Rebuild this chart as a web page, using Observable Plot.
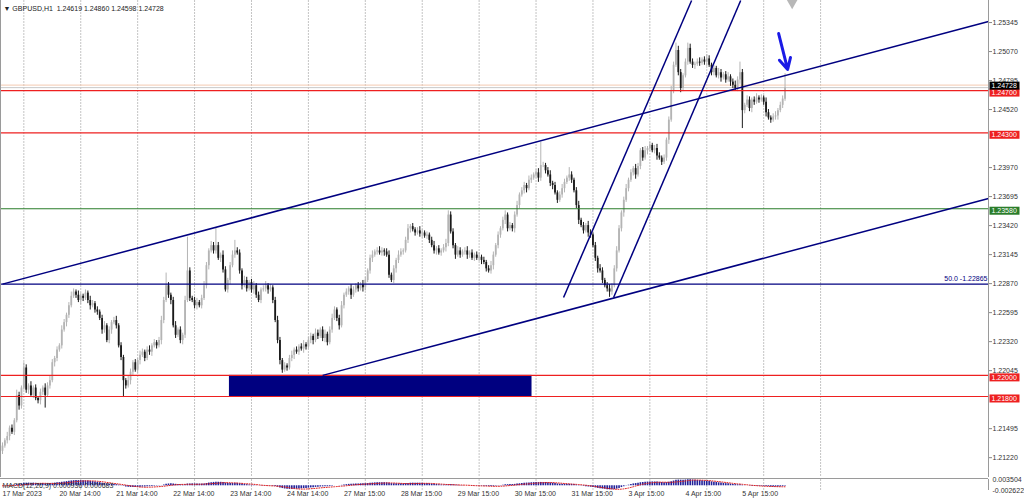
<!DOCTYPE html>
<html><head><meta charset="utf-8">
<script src="https://cdn.jsdelivr.net/npm/d3@7"></script>
<script src="https://cdn.jsdelivr.net/npm/@observablehq/plot@0.6"></script>
<style>
body{margin:0;background:#fff;}
#chart{width:1024px;height:501px;overflow:hidden;background:#fff;}
#chart svg{display:block;}
</style></head><body><div id="chart"></div>
<script>
// ---- data (GBPUSD H1) ----
const firstOpen = 1.2128;
const closes = [
1.2133,1.2138,1.2142,1.2150,1.2146,1.2157,1.2181,1.2171,1.2188,1.2207,
1.2186,1.2190,1.2181,1.2188,1.2178,1.2176,1.2184,1.2188,1.2181,1.2190,
1.2195,1.2212,1.2216,1.2224,1.2228,1.2243,1.2250,1.2257,1.2266,1.2275,
1.2279,1.2276,1.2271,1.2275,1.2273,1.2278,1.2271,1.2266,1.2268,1.2262,
1.2260,1.2254,1.2243,1.2247,1.2233,1.2243,1.2250,1.2252,1.2247,1.2228,
1.2217,1.2195,1.2190,1.2195,1.2203,1.2212,1.2205,1.2214,1.2219,1.2222,
1.2216,1.2224,1.2222,1.2228,1.2231,1.2228,1.2233,1.2252,1.2271,1.2285,
1.2276,1.2271,1.2247,1.2238,1.2243,1.2233,1.2238,1.2271,1.2299,1.2273,
1.2271,1.2266,1.2269,1.2266,1.2273,1.2285,1.2304,1.2318,1.2323,1.2318,
1.2323,1.2311,1.2314,1.2300,1.2281,1.2290,1.2304,1.2314,1.2318,1.2316,
1.2299,1.2285,1.2290,1.2282,1.2288,1.2281,1.2285,1.2276,1.2271,1.2281,
1.2282,1.2285,1.2281,1.2283,1.2271,1.2252,1.2233,1.2214,1.2205,1.2209,
1.2207,1.2216,1.2219,1.2224,1.2222,1.2227,1.2225,1.2229,1.2227,1.2233,
1.2237,1.2233,1.2240,1.2237,1.2243,1.2235,1.2239,1.2231,1.2243,1.2254,
1.2262,1.2254,1.2247,1.2266,1.2276,1.2279,1.2282,1.2276,1.2281,1.2285,
1.2282,1.2286,1.2283,1.2290,1.2299,1.2311,1.2314,1.2317,1.2318,1.2316,
1.2318,1.2317,1.2314,1.2295,1.2290,1.2301,1.2309,1.2314,1.2317,1.2318,
1.2328,1.2339,1.2341,1.2338,1.2335,1.2337,1.2334,1.2335,1.2332,1.2333,
1.2328,1.2323,1.2318,1.2320,1.2316,1.2318,1.2321,1.2325,1.2352,1.2336,
1.2323,1.2314,1.2318,1.2314,1.2317,1.2318,1.2314,1.2316,1.2311,1.2314,
1.2311,1.2312,1.2309,1.2307,1.2301,1.2299,1.2304,1.2314,1.2323,1.2333,
1.2339,1.2347,1.2352,1.2339,1.2342,1.2339,1.2352,1.2361,1.2371,1.2375,
1.2380,1.2377,1.2385,1.2387,1.2390,1.2392,1.2387,1.2399,1.2399,1.2394,
1.2390,1.2382,1.2380,1.2373,1.2366,1.2371,1.2377,1.2383,1.2387,1.2390,
1.2385,1.2375,1.2361,1.2347,1.2342,1.2337,1.2342,1.2335,1.2333,1.2323,
1.2311,1.2301,1.2299,1.2290,1.2285,1.2282,1.2279,1.2285,1.2301,1.2318,
1.2339,1.2354,1.2366,1.2377,1.2385,1.2392,1.2396,1.2390,1.2398,1.2413,
1.2406,1.2413,1.2415,1.2418,1.2413,1.2415,1.2408,1.2406,1.2402,1.2406,
1.2423,1.2442,1.2470,1.2494,1.2508,1.2487,1.2472,1.2484,1.2497,1.2510,
1.2497,1.2494,1.2495,1.2497,1.2496,1.2499,1.2497,1.2500,1.2494,1.2487,
1.2491,1.2484,1.2487,1.2482,1.2485,1.2480,1.2483,1.2478,1.2475,1.2472,
1.2480,1.2487,1.2451,1.2456,1.2461,1.2453,1.2461,1.2459,1.2463,1.2461,
1.2463,1.2459,1.2449,1.2444,1.2442,1.2445,1.2446,1.2451,1.2456,1.24619,
1.24728];
// upper / lower wick lengths in pips
const upWick = [
3,2,4,2,3,2,5,3,2,5, 3,2,4,2,3,2,3,2,4,3, 4,3,2,3,2,4,3,2,3,4, 3,2,4,3,2,3,2,4,3,2,
3,2,3,4,2,3,2,3,4,2, 3,2,2,4,3,2,3,2,4,3, 2,3,4,2,3,2,3,4,3,12, 3,2,3,4,2,3,2,4,32,3,
2,3,4,2,3,4,3,2,4,3, 17,3,2,4,3,2,3,4,10,3, 3,2,4,3,2,3,4,2,3,2, 3,4,2,3,2,3,4,3,2,3,
2,3,4,2,3,2,3,4,2,3, 3,2,4,3,2,3,4,2,3,4, 3,2,3,4,2,3,2,4,3,2, 3,2,4,3,2,3,4,2,3,4,
3,2,3,4,2,3,2,4,3,2, 3,4,2,3,2,3,4,3,2,3, 2,3,4,2,3,2,3,4,4,3, 3,2,4,3,2,3,4,2,3,2,
3,4,2,3,2,3,4,3,2,3, 2,3,4,2,3,2,3,4,2,3, 3,2,4,3,2,3,4,22,3,2, 3,4,2,3,2,3,4,3,2,7,
3,2,3,4,2,3,2,4,3,2, 3,2,4,3,2,3,4,2,3,4, 3,2,3,4,2,3,2,4,3,2, 3,4,2,3,2,3,4,3,2,3,
2,3,4,3,7,4,3,2,3,5, 4,3,2,3,4,2,3,4,3,2, 3,2,4,3,2,3,4,2,3,4, 3,10,3,2,4,3,2,3,4,2,
3,2,4,3,2,3,4,2,3,3, 13.2];
const dnWick = [
3,2,3,4,2,3,2,4,3,2, 3,4,2,3,2,3,4,3,12,2, 3,2,4,3,2,3,2,4,3,2, 2,3,2,4,3,2,3,4,2,3,
3,2,4,3,2,3,4,2,3,2, 3,16,3,2,4,3,2,3,4,2, 3,2,3,4,2,3,2,4,3,2, 3,4,2,3,2,3,4,3,2,3,
2,3,4,2,3,2,3,4,2,3, 3,2,4,3,2,3,4,2,3,2, 3,4,2,3,2,3,4,3,2,3, 2,3,4,2,3,2,3,4,3,2,
3,2,3,4,2,3,2,4,3,2, 3,4,2,3,2,3,4,3,2,3, 2,3,4,2,3,2,3,4,2,3, 3,2,4,3,2,3,4,2,3,2,
3,4,2,3,2,3,4,3,2,3, 2,3,4,2,3,2,3,4,2,3, 3,2,3,4,2,3,2,4,3,2, 3,4,2,3,2,3,4,3,2,3,
2,3,4,2,3,2,3,4,2,3, 3,2,4,3,2,3,4,2,3,2, 3,4,2,3,2,3,4,3,2,3, 2,3,4,2,3,2,3,4,2,3,
3,2,3,4,2,3,2,4,3,2, 3,4,2,3,2,3,5,3,2,3, 2,3,4,2,3,2,3,4,2,3, 3,2,4,3,2,3,4,2,3,2,
3,4,2,3,2,3,4,3,2,3, 2,3,4,2,3,2,3,4,2,3, 3,2,3,4,2,3,2,4,3,2, 3,4,17,3,2,3,4,3,2,3,
2,3,4,2,3,2,3,4,2,3, 2.1];

// 1.24245 and 1.21770 sit under the level labels in the reference, so they are not listed
const priceTicks = [1.25345,1.25070,1.24795,1.24520,1.23970,1.23695,1.23420,1.23145,1.22870,1.22595,1.22320,1.22045,1.21495,1.21220];
const dateTickBars = [0,24,48,72,96,120,144,168,192,216,240,264,288,312];
const dateTickLabels = ["17 Mar 2023","20 Mar 14:00","21 Mar 14:00","22 Mar 14:00","23 Mar 14:00","24 Mar 14:00","27 Mar 15:00","28 Mar 15:00","29 Mar 15:00","30 Mar 15:00","31 Mar 15:00","3 Apr 15:00","4 Apr 15:00","5 Apr 15:00"];
const gridBars = [9,33,57,81,105,129,153,177,201,225,249,273,297,321,345];

const redLevels = [1.24700, 1.24300, 1.22000, 1.21800];
const greenLevels = [1.23580];
const fibLevel = 1.22865;
const bidPrice = 1.24728;
const askPrice = 1.24752;
const zone = {bar1: 95.7, bar2: 223.3, price1: 1.21800, price2: 1.22000};
const trendLines = [
  {bar1: 0,     price1: 1.22865, bar2: 415.8, price2: 1.25355},
  {bar1: 135,   price1: 1.22000, bar2: 415.8, price2: 1.23677},
  {bar1: 236.6, price1: 1.22738, bar2: 290.6, price2: 1.25554},
  {bar1: 257.7, price1: 1.22738, bar2: 311.3, price2: 1.25554}
];
const blueArrow = {bar1: 327.3, price1: 1.25241, bar2: 331.1, price2: 1.24900};
const grayMarker = {bar: 333, price: 1.25566};
const titleText = "\u25BC GBPUSD,H1\u00a0 1.24619 1.24860 1.24598 1.24728";
const macdTitle = "MACD(12,26,9) 0.000936 0.000683";
const macdAxisLabels = [0.003504, -0.002622];

// ---- derived ----
const bars = closes.map((c, i) => {
  const open = i === 0 ? firstOpen : closes[i - 1];
  return {i, open, close: c,
    high: Math.max(open, c) + upWick[i] / 10000,
    low: Math.min(open, c) - dnWick[i] / 10000,
    up: c >= open};
});
function ema(arr, n) { const k = 2 / (n + 1); let e = arr[0]; return arr.map((v, i) => i === 0 ? e : (e = v * k + e * (1 - k))); }
const e12 = ema(closes, 12), e26 = ema(closes, 26);
const macd = closes.map((_, i) => e12[i] - e26[i]);
const macdData = macd.map((m, i) => {
  const sl = macd.slice(Math.max(0, i - 8), i + 1);
  return {i, m, s: d3.mean(sl)};
});

const xDom = [-0.84, 415.8];
const yDom = [1.21032, 1.25554];
const FONT = "Liberation Sans, Arial, sans-serif";
const NAVY = "#000080", RED = "#ee2020", GREEN = "#2a7d2a";
const upCol = "#b4b4b4", dnCol = "#1a1a1a";
const box = {draw(ctx) { ctx.moveTo(-15, -4); ctx.lineTo(15, -4); ctx.lineTo(15, 4); ctx.lineTo(-15, 4); ctx.closePath(); }};
const atRight = () => xDom[1];

const main = Plot.plot({
  width: 1024, height: 477,
  marginLeft: 0, marginRight: 36, marginTop: 0, marginBottom: 0,
  x: {domain: xDom, axis: null},
  y: {domain: yDom},
  style: {fontFamily: FONT, fontSize: "7px", color: "#222", background: "#fff"},
  marks: [
    Plot.ruleX(gridBars, {stroke: "#c4c4c4", strokeDasharray: "2,1"}),
    Plot.ruleY([askPrice], {stroke: "#f3c9b0"}),
    Plot.ruleY([bidPrice], {stroke: "#c8c8c8"}),
    Plot.rect([zone], {x1: "bar1", x2: "bar2", y1: "price1", y2: "price2", fill: NAVY}),
    Plot.ruleX(bars, {x: "i", y1: "low", y2: "high", stroke: d => d.up ? upCol : dnCol, strokeWidth: 1}),
    Plot.ruleX(bars, {x: "i", y1: "open", y2: "close", stroke: d => d.up ? upCol : dnCol, strokeWidth: 1.8}),
    Plot.ruleY(redLevels, {stroke: RED, strokeWidth: 1.2}),
    Plot.ruleY(greenLevels, {stroke: GREEN, strokeWidth: 1.2}),
    Plot.ruleY([fibLevel], {stroke: NAVY, strokeWidth: 1.2}),
    Plot.link(trendLines, {x1: "bar1", y1: "price1", x2: "bar2", y2: "price2", stroke: NAVY, strokeWidth: 1.5}),
    Plot.arrow([blueArrow], {x1: "bar1", y1: "price1", x2: "bar2", y2: "price2", stroke: "#1a1ae6", strokeWidth: 3, headLength: 11, headAngle: 55}),
    Plot.dot([grayMarker], {x: "bar", y: "price", symbol: "diamond", r: 6, fill: "#b8b8b8"}),
    Plot.text([fibLevel], {x: atRight, y: d => d, text: d => "50.0 -" + d.toFixed(5), textAnchor: "end", dx: -1, dy: -5, fill: NAVY, fontSize: 7}),
    Plot.ruleX([xDom[1]], {stroke: "#9a9a9a"}),
    Plot.ruleX([xDom[0]], {stroke: "#9a9a9a"}),
    Plot.axisY({anchor: "right", ticks: priceTicks, tickFormat: d => d.toFixed(5), tickSize: 3, tickPadding: 1, fontSize: 7, stroke: "#888", fill: "#333"}),
    Plot.dot(redLevels, {x: atRight, y: d => d, symbol: box, fill: RED, dx: 16, dy: 2}),
    Plot.text(redLevels, {x: atRight, y: d => d, text: d => d.toFixed(5), dx: 3, dy: 2, textAnchor: "start", fill: "#fff", fontSize: 7}),
    Plot.dot(greenLevels, {x: atRight, y: d => d, symbol: box, fill: GREEN, dx: 16, dy: 2}),
    Plot.text(greenLevels, {x: atRight, y: d => d, text: d => d.toFixed(5), dx: 3, dy: 2, textAnchor: "start", fill: "#fff", fontSize: 7}),
    Plot.dot([bidPrice], {x: atRight, y: d => d, symbol: box, fill: "#000", dx: 16, dy: -2}),
    Plot.text([bidPrice], {x: atRight, y: d => d, text: d => d.toFixed(5), dx: 3, dy: -2, textAnchor: "start", fill: "#fff", fontSize: 7}),
    Plot.text([titleText], {frameAnchor: "top-left", dx: 3, dy: 6, textAnchor: "start", fill: "#222", fontSize: 7})
  ]
});

const macdPlot = Plot.plot({
  width: 1024, height: 24,
  marginLeft: 0, marginRight: 36, marginTop: 2, marginBottom: 11,
  x: {domain: xDom, axis: null},
  y: {domain: [macdAxisLabels[1], macdAxisLabels[0]], axis: null},
  style: {fontFamily: FONT, fontSize: "7px", color: "#222", background: "#fff", overflow: "visible"},
  marks: [
    Plot.ruleX(gridBars, {y1: macdAxisLabels[1], y2: macdAxisLabels[0], stroke: "#c4c4c4", strokeDasharray: "2,1"}),
    Plot.ruleY([macdAxisLabels[0]], {stroke: "#9a9a9a", dy: -1}),
    Plot.ruleX(macdData, {x: "i", y1: 0, y2: "m", stroke: "#22229a", strokeWidth: 1.6}),
    Plot.line(macdData, {x: "i", y: "s", stroke: "#e02020", strokeWidth: 1, strokeDasharray: "1,1.5"}),
    Plot.text([macdTitle], {frameAnchor: "top-left", dx: 2, dy: 4, textAnchor: "start", fill: "#333", fontSize: 7}),
    Plot.ruleX([xDom[1]], {y1: macdAxisLabels[1], y2: macdAxisLabels[0], stroke: "#9a9a9a"}),
    Plot.text(macdAxisLabels, {x: atRight, y: d => d, text: d => d.toFixed(6), dx: 4, textAnchor: "start", fill: "#333", fontSize: 7}),
    Plot.text(dateTickBars, {x: d => d, text: (d, i) => dateTickLabels[i], frameAnchor: "bottom", dy: 5, textAnchor: "start", fill: "#333", fontSize: 7})
  ]
});

const el = document.getElementById("chart");
el.appendChild(main);
el.appendChild(macdPlot);
</script>
</body></html>
